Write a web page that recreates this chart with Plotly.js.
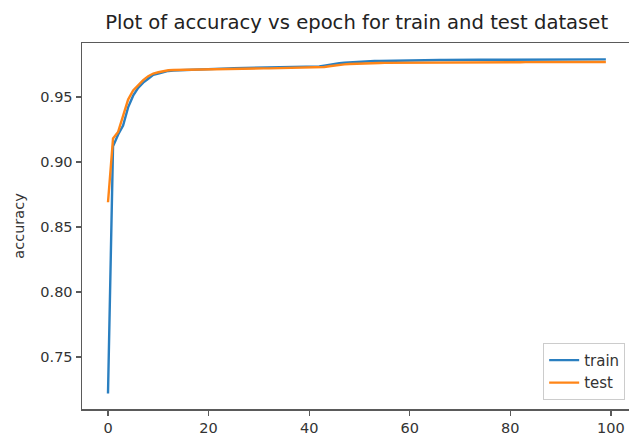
<!DOCTYPE html>
<html>
<head>
<meta charset="utf-8">
<script src="https://cdn.plot.ly/plotly-3.0.1.min.js"></script>
<style>html,body{margin:0;padding:0;background:#fff;}#chart{width:629px;height:437px;}</style>
</head>
<body>
<div id="chart"></div>
<script>
const epochs = Array.from({length: 100}, (_, i) => i);

const trainAcc = [
  0.722, 0.912, 0.921, 0.928, 0.942, 0.951, 0.957, 0.961, 0.964, 0.967,
  0.968, 0.969, 0.970, 0.9703, 0.9705, 0.9706, 0.9708, 0.9710, 0.9711, 0.9713,
  0.9714, 0.9716, 0.9717, 0.9718, 0.9720, 0.9721, 0.9722, 0.9723, 0.9724, 0.9725,
  0.9726, 0.9727, 0.9727, 0.9728, 0.9729, 0.9729, 0.9730, 0.9730, 0.9731, 0.9731,
  0.9732, 0.9733, 0.9735, 0.9741, 0.9748, 0.9754, 0.9759, 0.9763, 0.9766, 0.9769,
  0.9771, 0.9773, 0.9775, 0.9776, 0.9777, 0.9778, 0.9779, 0.9780, 0.9781, 0.9781,
  0.9782, 0.9782, 0.9783, 0.9783, 0.9783, 0.9784, 0.9784, 0.9784, 0.9785, 0.9785,
  0.9785, 0.9785, 0.9786, 0.9786, 0.9786, 0.9786, 0.9786, 0.9787, 0.9787, 0.9787,
  0.9787, 0.9787, 0.9787, 0.9788, 0.9788, 0.9788, 0.9788, 0.9788, 0.9788, 0.9788,
  0.9788, 0.9789, 0.9789, 0.9789, 0.9789, 0.9789, 0.9789, 0.9789, 0.9789, 0.9789
];

const testAcc = [
  0.869, 0.918, 0.923, 0.936, 0.948, 0.955, 0.959, 0.963, 0.966, 0.968,
  0.969, 0.970, 0.9705, 0.9707, 0.9708, 0.9709, 0.9710, 0.9711, 0.9712, 0.9713,
  0.9713, 0.9714, 0.9715, 0.9715, 0.9716, 0.9717, 0.9717, 0.9718, 0.9718, 0.9719,
  0.9719, 0.9720, 0.9720, 0.9721, 0.9721, 0.9722, 0.9722, 0.9723, 0.9723, 0.9724,
  0.9724, 0.9725, 0.9725, 0.9730, 0.9736, 0.9742, 0.9747, 0.9751, 0.9754, 0.9756,
  0.9758, 0.9759, 0.9760, 0.9761, 0.9761, 0.9762, 0.9762, 0.9762, 0.9763, 0.9763,
  0.9763, 0.9764, 0.9764, 0.9764, 0.9764, 0.9765, 0.9765, 0.9765, 0.9765, 0.9765,
  0.9766, 0.9766, 0.9766, 0.9766, 0.9766, 0.9766, 0.9767, 0.9767, 0.9767, 0.9767,
  0.9767, 0.9767, 0.9767, 0.9768, 0.9768, 0.9768, 0.9768, 0.9768, 0.9768, 0.9768,
  0.9768, 0.9769, 0.9769, 0.9769, 0.9769, 0.9769, 0.9769, 0.9769, 0.9769, 0.9769
];

const seriesNames = ['train', 'test'];
const xTicks = [0, 20, 40, 60, 80, 100];
const yTicks = [0.75, 0.80, 0.85, 0.90, 0.95];

const font = 'DejaVu Sans, sans-serif';

const traces = [
  {x: epochs, y: trainAcc, name: seriesNames[0], type: 'scatter', mode: 'lines',
   line: {color: '#2a7fc0', width: 2.4}},
  {x: epochs, y: testAcc, name: seriesNames[1], type: 'scatter', mode: 'lines',
   line: {color: '#ff8517', width: 2.4}}
];

const layout = {
  width: 629, height: 437,
  margin: {l: 82, r: 0, t: 43, b: 28, pad: 0},
  paper_bgcolor: '#fff', plot_bgcolor: '#fff',
  font: {family: font, size: 14.5, color: '#333'},
  title: {text: 'Plot of accuracy vs epoch for train and test dataset',
          font: {family: font, size: 19.6, color: '#222'},
          x: 0.567, xref: 'container', xanchor: 'center',
          y: 0.9497, yref: 'container', yanchor: 'middle'},
  xaxis: {range: [-5.17, 103.6], tickvals: xTicks, ticktext: xTicks.map(String),
          showgrid: false, zeroline: false, showline: true, mirror: true,
          linecolor: '#5a5a5a', linewidth: 1.5, ticks: 'outside', ticklen: 5,
          tickcolor: '#5a5a5a', tickwidth: 1.3, tickfont: {family: font, size: 14.5, color: '#333'}},
  yaxis: {range: [0.71, 0.9915], tickvals: yTicks, ticktext: yTicks.map(v => v.toFixed(2)),
          showgrid: false, zeroline: false, showline: true, mirror: false,
          linecolor: '#5a5a5a', linewidth: 1.5, ticks: 'outside', ticklen: 5,
          tickcolor: '#5a5a5a', tickwidth: 1.3, tickfont: {family: font, size: 14.5, color: '#333'},
          title: {text: 'accuracy', font: {family: font, size: 14.5, color: '#333'}, standoff: 12}},
  showlegend: true,
  legend: {x: 0.993, y: 0.025, xanchor: 'right', yanchor: 'bottom',
           bgcolor: 'rgba(255,255,255,0.9)', bordercolor: '#ccc', borderwidth: 1,
           font: {family: font, size: 15, color: '#333'}, tracegroupgap: 0}
};

Plotly.newPlot('chart', traces, layout, {displayModeBar: false, staticPlot: true});
</script>
</body>
</html>
